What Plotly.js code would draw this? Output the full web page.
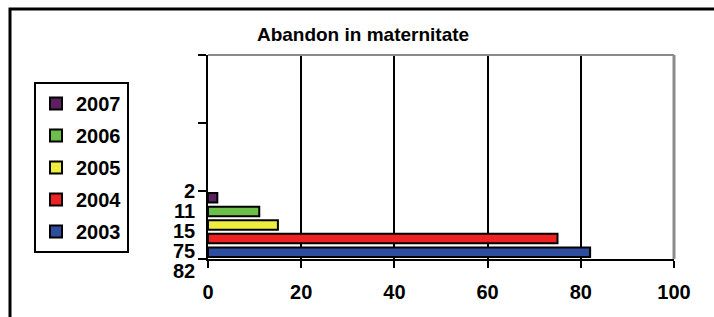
<!DOCTYPE html>
<html>
<head>
<meta charset="utf-8">
<script src="https://cdn.plot.ly/plotly-3.0.1.min.js"></script>
<style>html,body{margin:0;padding:0;background:#fff;}#chart{width:714px;height:317px;}</style>
</head>
<body>
<div id="chart"></div>
<script>
// ---- data ----
const years = ["2003", "2004", "2005", "2006", "2007"];
const values = [82, 75, 15, 11, 2];
const colors = ["#2e4d9f", "#ee2222", "#eeee3e", "#6cc04a", "#5c1f60"];
const xTicks = [0, 20, 40, 60, 80, 100];
const chartTitle = "Abandon in maternitate";

const FONT = "Liberation Sans, Arial, sans-serif";
const W = 714, H = 317;
const M = {l: 208, r: 40, t: 55, b: 58};
const PW = W - M.l - M.r, PH = H - M.t - M.b;
const px2x = p => (p - M.l) / PW;
const py2y = p => (H - M.b - p) / PH;

const traces = years.map((yr, i) => ({
  type: "bar",
  orientation: "h",
  name: yr,
  legendgroup: yr,
  legendrank: years.length - i,
  y: [0],
  x: [values[i]],
  marker: {color: colors[i], line: {color: "#000", width: 2}},
  hoverinfo: "x+name"
}));

// value labels stacked left of the axis (top = last year)
const annotations = values.slice().reverse().map((v, i) => ({
  xref: "paper", yref: "paper",
  x: px2x(197), y: py2y(191 + 20 * i),
  xanchor: "right", yanchor: "middle",
  text: String(v), showarrow: false,
  font: {family: FONT, size: 20, color: "#000", weight: "bold"}
}));

const shapes = [
  // plot top and right border (grey)
  {type: "line", xref: "paper", yref: "paper", x0: 0, x1: 1, y0: 1, y1: 1,
   line: {color: "#8a8a8a", width: 2}, layer: "above"},
  {type: "line", xref: "paper", yref: "paper", x0: 1, x1: 1, y0: 0, y1: 1,
   line: {color: "#8a8a8a", width: 3}, layer: "above"},
  // outer chart-area frame
  {type: "rect", xref: "paper", yref: "paper",
   x0: px2x(10), x1: px2x(730), y0: py2y(9), y1: py2y(340),
   line: {color: "#000", width: 3}, fillcolor: "rgba(0,0,0,0)", layer: "above"}
];

const layout = {
  width: W, height: H,
  margin: M,
  paper_bgcolor: "#fff", plot_bgcolor: "#fff",
  font: {family: FONT, color: "#000"},
  title: {
    text: "<b>" + chartTitle + "</b>",
    x: 363 / W, xref: "container", xanchor: "center",
    y: 1 - 34 / H, yref: "container", yanchor: "middle",
    font: {family: FONT, size: 19, color: "#000"}
  },
  barmode: "group",
  bargap: 0,
  bargroupgap: 0.3,
  showlegend: true,
  legend: {
    x: px2x(34), xanchor: "left",
    y: py2y(82), yanchor: "top",
    traceorder: "grouped",
    tracegroupgap: 3,
    bordercolor: "#000", borderwidth: 2, bgcolor: "#fff",
    font: {family: FONT, size: 20, color: "#000", weight: "bold"}
  },
  xaxis: {
    range: [0, 100],
    tickvals: xTicks,
    ticktext: xTicks.map(String),
    ticks: "outside", ticklen: 7, tickwidth: 2, tickcolor: "#000",
    ticklabelstandoff: 7,
    tickfont: {family: FONT, size: 20, color: "#000", weight: "bold"},
    showgrid: true, gridcolor: "#000", gridwidth: 2,
    showline: true, linecolor: "#000", linewidth: 2,
    zeroline: false, fixedrange: true
  },
  yaxis: {
    range: [-0.5, 2.5],
    tickvals: [-0.5, 0.5, 1.5, 2.5],
    showticklabels: false,
    ticks: "outside", ticklen: 8, tickwidth: 2, tickcolor: "#000",
    showgrid: false,
    showline: true, linecolor: "#000", linewidth: 2,
    zeroline: false, fixedrange: true
  },
  annotations: annotations,
  shapes: shapes
};

Plotly.newPlot("chart", traces, layout, {displayModeBar: false, staticPlot: true});
</script>
</body>
</html>
